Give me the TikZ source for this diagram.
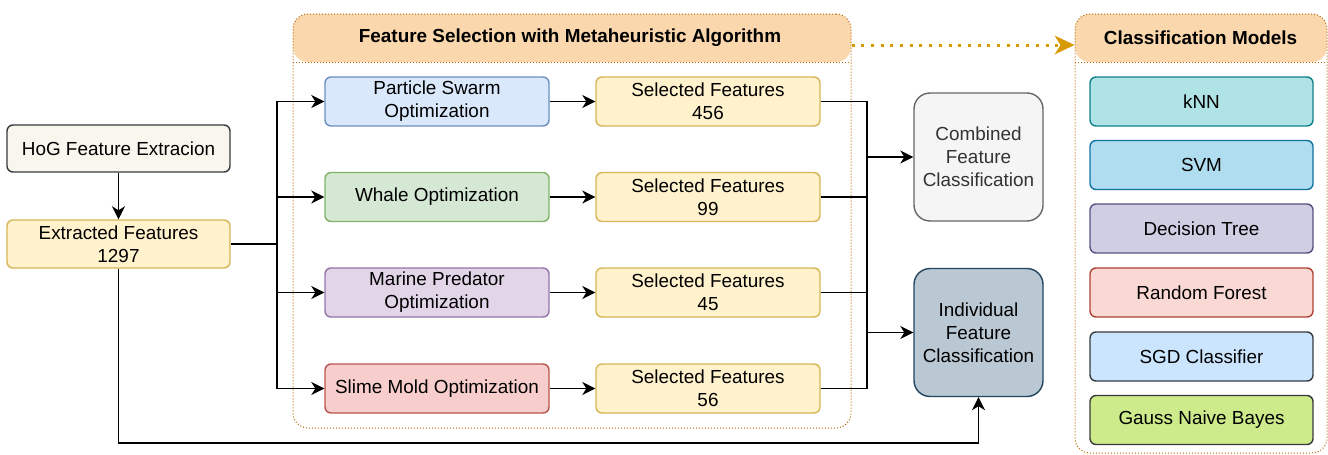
\documentclass[tikz,border=0pt]{standalone}
\usepackage{fontspec}
\setmainfont{Liberation Sans}
\usetikzlibrary{arrows.meta,calc}

\definecolor{hogfill}{HTML}{F9F7ED}
\definecolor{darkline}{HTML}{36393D}
\definecolor{yelfill}{HTML}{FFF2CC}
\definecolor{yelline}{HTML}{D6B656}
\definecolor{bluefill}{HTML}{DAE8FC}
\definecolor{blueline}{HTML}{6C8EBF}
\definecolor{greenfill}{HTML}{D5E8D4}
\definecolor{greenline}{HTML}{82B366}
\definecolor{purpfill}{HTML}{E1D5E7}
\definecolor{purpline}{HTML}{9673A6}
\definecolor{redfill}{HTML}{F8CECC}
\definecolor{redline}{HTML}{B85450}
\definecolor{greyfill}{HTML}{F5F5F5}
\definecolor{greyline}{HTML}{666666}
\definecolor{greytext}{HTML}{333333}
\definecolor{slatefill}{HTML}{BAC8D3}
\definecolor{slateline}{HTML}{23445D}
\definecolor{hdrfill}{HTML}{FAD7AC}
\definecolor{hdrline}{HTML}{B46504}
\definecolor{floworange}{HTML}{D79B00}
\definecolor{tealfill}{HTML}{B0E3E6}
\definecolor{tealline}{HTML}{0E8088}
\definecolor{skyfill}{HTML}{B1DDF0}
\definecolor{skyline}{HTML}{10739E}
\definecolor{lavfill}{HTML}{D0CEE2}
\definecolor{lavline}{HTML}{56517E}
\definecolor{rosefill}{HTML}{FAD9D5}
\definecolor{roseline}{HTML}{AE4132}
\definecolor{icefill}{HTML}{CCE5FF}
\definecolor{limefill}{HTML}{CDEB8B}

\newcommand{\boxfont}{\fontsize{18.9}{23}\selectfont}
\newcommand{\headfont}{\fontsize{18.9}{23}\selectfont\bfseries}

\begin{document}
\begin{tikzpicture}[x=1pt,y=-1pt,
  procbox/.style={draw, line width=1.4pt, rounded corners=6pt, align=center,
    inner sep=0pt, minimum width=224pt, minimum height=49pt, font=\boxfont},
  bigbox/.style={draw, line width=1.4pt, rounded corners=16pt, align=center,
    inner sep=0pt, minimum width=129pt, minimum height=128pt, font=\boxfont},
  groupbox/.style={draw=hdrline, line width=1pt, dotted, rounded corners=15pt,
    inner sep=0pt,
    path picture={
      \fill[hdrfill] (path picture bounding box.north west)
        rectangle ([yshift=-48pt]path picture bounding box.north east);
      \draw[hdrline, line width=1pt, dotted]
        ([yshift=-48pt]path picture bounding box.north west)
        -- ([yshift=-48pt]path picture bounding box.north east);
    }},
  headtext/.style={font=\headfont, inner sep=0pt},
  link/.style={line width=1.6pt, black},
  arr/.style={link, -{Stealth[length=13pt,width=13pt,inset=4pt]}},
  flowarr/.style={line width=3pt, floworange, dash pattern=on 3pt off 6.7pt,
    -{Stealth[length=20pt,width=19pt,inset=6pt,line width=0pt]}}
]
\useasboundingbox (0,0) rectangle (1328,455);

% group containers
\node[groupbox, minimum width=558pt, minimum height=414pt] (fsel) at (572,221) {};
\node[headtext] (fselt) at (570,38) {Feature Selection with Metaheuristic Algorithm};
\node[groupbox, minimum width=252pt, minimum height=439pt] (cmod) at (1201,233.5) {};
\node[headtext] (cmodt) at (1200.5,38) {Classification Models};

% input stage
\node[procbox, fill=hogfill, draw=darkline, minimum width=223pt, minimum height=47pt]
  (hog) at (118.5,148.5) {HoG Feature Extracion};
\node[procbox, fill=yelfill, draw=yelline, minimum width=223pt, minimum height=48pt]
  (ext) at (118.5,244) {Extracted Features\\1297};

% metaheuristic optimisers
\node[procbox, fill=bluefill, draw=blueline] (pso) at (437,101.5) {Particle Swarm\\Optimization};
\node[procbox, fill=greenfill, draw=greenline] (woa) at (437,197) {Whale Optimization};
\node[procbox, fill=purpfill, draw=purpline] (mpa) at (437,292.5) {Marine Predator\\Optimization};
\node[procbox, fill=redfill, draw=redline] (sma) at (437,388.5) {Slime Mold Optimization};

% selected feature subsets
\node[procbox, fill=yelfill, draw=yelline] (sf1) at (708,101.5) {Selected Features\\456};
\node[procbox, fill=yelfill, draw=yelline] (sf2) at (708,197) {Selected Features\\99};
\node[procbox, fill=yelfill, draw=yelline] (sf3) at (708,292.5) {Selected Features\\45};
\node[procbox, fill=yelfill, draw=yelline] (sf4) at (708,388.5) {Selected Features\\56};

% classification schemes
\node[bigbox, fill=greyfill, draw=greyline, text=greytext] (comb) at (978.5,157)
  {Combined\\Feature\\Classification};
\node[bigbox, fill=slatefill, draw=slateline] (indiv) at (978.5,332.5)
  {Individual\\Feature\\Classification};

% classifier list
\node[procbox, fill=tealfill, draw=tealline, minimum width=223pt] (knn) at (1201.5,101.5) {kNN};
\node[procbox, fill=skyfill, draw=skyline, minimum width=223pt] (svm) at (1201.5,165) {SVM};
\node[procbox, fill=lavfill, draw=lavline, minimum width=223pt] (dt) at (1201.5,228.5) {Decision Tree};
\node[procbox, fill=rosefill, draw=roseline, minimum width=223pt] (rf) at (1201.5,292.5) {Random Forest};
\node[procbox, fill=icefill, draw=darkline, minimum width=223pt] (sgd) at (1201.5,356.5) {SGD Classifier};
\node[procbox, fill=limefill, draw=darkline, minimum width=223pt] (gnb) at (1201.5,420) {Gauss Naive Bayes};

% junction points
\coordinate (split) at (277,244);
\coordinate (mergeA) at (867,157);
\coordinate (mergeB) at (867,332.5);
\coordinate (bottom) at (0,443);
\coordinate (flowy) at (0,45);

% connectors
\draw[arr] (hog) -- (ext);
\draw[link] (ext.east) -- (split);
\draw[arr] (split) |- (pso.west);
\draw[arr] (split) |- (woa.west);
\draw[arr] (split) |- (mpa.west);
\draw[arr] (split) |- (sma.west);

\draw[arr] (pso) -- (sf1);
\draw[arr] (woa) -- (sf2);
\draw[arr] (mpa) -- (sf3);
\draw[arr] (sma) -- (sf4);

\draw[link] (sf1.east) -| (mergeA);
\draw[link] (sf2.east) -| (mergeA);
\draw[link] (sf2.east) -| (mergeB);
\draw[link] (sf3.east) -| (mergeB);
\draw[link] (sf4.east) -| (mergeB);
\draw[arr] (mergeA) -- (comb.west |- mergeA);
\draw[arr] (mergeB) -- (indiv.west |- mergeB);

\draw[arr] (ext.south) -- (ext.south |- bottom) -| (indiv.south);

\draw[flowarr] (fsel.east |- flowy) -- (cmod.west |- flowy);
\end{tikzpicture}
\end{document}
